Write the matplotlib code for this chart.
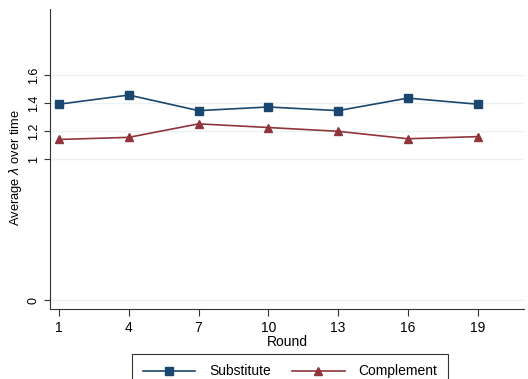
import matplotlib.pyplot as plt

plt.rcParams['font.family'] = ['Liberation Sans', 'DejaVu Sans']

rounds = [1, 4, 7, 10, 13, 16, 19]
substitute = [1.393, 1.458, 1.347, 1.373, 1.347, 1.436, 1.393]
complement = [1.142, 1.157, 1.253, 1.227, 1.200, 1.147, 1.162]
yticks = [0, 1, 1.2, 1.4, 1.6]
ytick_labels = ['0', '1', '1.2', '1.4', '1.6']

navy = '#1a476f'
maroon = '#90353b'

fig = plt.figure(figsize=(5.28, 3.79), dpi=100)
ax = fig.add_axes([50 / 528, 1 - 309 / 379, 474 / 528, 300 / 379])

ax.plot(rounds, substitute, color=navy, marker='s', markersize=6, lw=1.2, label='Substitute')
ax.plot(rounds, complement, color=maroon, marker='^', markersize=6, lw=1.2, label='Complement')

ax.set_xlim(0.61, 21.0)
ax.set_ylim(-0.064, 2.07)
ax.set_xticks(rounds)
ax.set_yticks(yticks)
ax.set_yticklabels(ytick_labels, rotation=90, va='center')
ax.tick_params(length=4, color='#333333')
ax.tick_params(axis='x', labelsize=10, length=5)
ax.tick_params(axis='y', labelsize=9)
ax.grid(axis='y', color='#eaf2f3', lw=1)
ax.set_axisbelow(True)

for side in ['top', 'right']:
    ax.spines[side].set_visible(False)
for side in ['left', 'bottom']:
    ax.spines[side].set_color('#333333')

ax.set_xlabel('Round', fontsize=10, labelpad=0)
ax.set_ylabel('Average $\\lambda$ over time', fontsize=9.3)
ax.yaxis.set_label_coords(-0.055, 0.473)

# legend box runs past the bottom edge like the original
leg = fig.legend(loc='upper center', bbox_to_anchor=(290 / 528, 1 - 354 / 379), ncol=2,
                 fontsize=10, frameon=True, fancybox=False, edgecolor='black',
                 handlelength=3.8, handletextpad=1.0, columnspacing=1.5, borderpad=0.75,
                 borderaxespad=0)
leg.get_frame().set_linewidth(0.8)

fig.savefig('out.png', dpi=100)
